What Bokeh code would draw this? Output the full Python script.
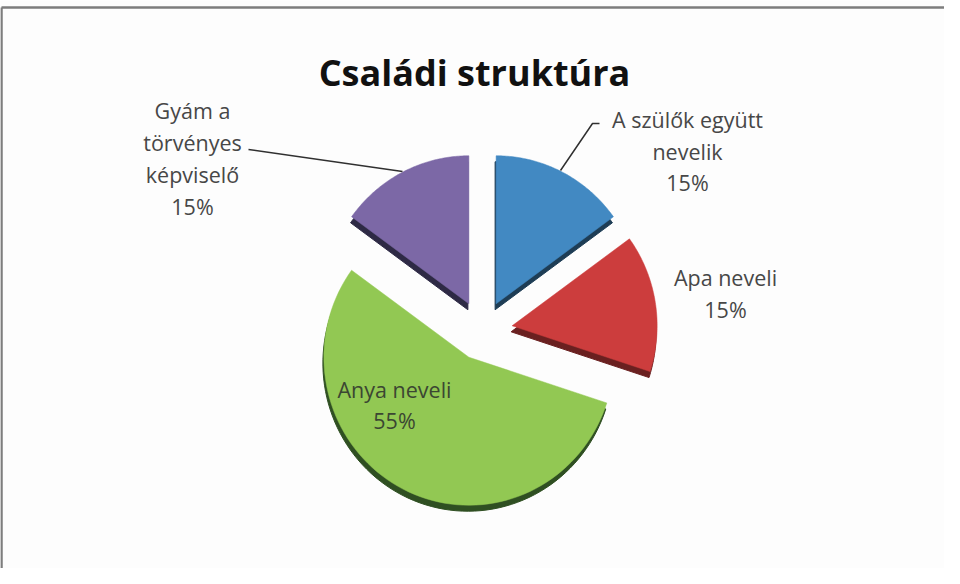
import math
from bokeh.plotting import figure
from bokeh.models import Range1d
from bokeh.core.properties import value
from bokeh.embed import file_html
from bokeh.resources import INLINE

# ---- data ----
categories = ["A szülők együtt nevelik", "Apa neveli", "Anya neveli", "Gyám a törvényes képviselő"]
shares = [15, 15, 55, 15]
pct_labels = ["15%", "15%", "55%", "15%"]
label_lines = [["A szülők együtt", "nevelik", "15%"],
               ["Apa neveli", "15%"],
               ["Anya neveli", "55%"],
               ["Gyám a", "törvényes", "képviselő", "15%"]]
title_text = "Családi struktúra"

top_colors = ["#4289c2", "#cc3d3d", "#92c853", "#7c68a6"]
side_colors = ["#1e3d55", "#6a2020", "#2f4f22", "#2e2a45"]
label_colors = ["#474747", "#474747", "#3b4632", "#474747"]

# ---- layout ----
W, H = 944, 568
cx, cy = 490.0, 338.0      # pie centre (screen px)
rx, ry = 145.0, 148.0      # radii
explode = 30.0
depth = 6.0

p = figure(width=W, height=H, x_range=Range1d(8, 8 + W), y_range=Range1d(8 + H, 8),
           output_backend="svg", toolbar_location=None, min_border=0,
           x_axis_type=None, y_axis_type=None)
p.grid.visible = False
p.outline_line_color = None
p.background_fill_color = "#fdfdfd"
p.border_fill_color = "#fdfdfd"

# frame lines of the chart area
p.segment(x0=[9, 9], y0=[15, 15], x1=[960, 9], y1=[15, 584], line_color="#7d7d7d", line_width=2.5)

total = float(sum(shares))
tops_x, tops_y, sides_x, sides_y = [], [], [], []
cum = 0.0
for v in shares:
    a0 = 90.0 - 360.0 * cum / total
    cum += v
    a1 = 90.0 - 360.0 * cum / total
    mid = math.radians((a0 + a1) / 2)
    ax = cx + explode * math.cos(mid)
    ay = cy - explode * math.sin(mid)
    n = 80
    xs, ys = [ax], [ay]
    for i in range(n + 1):
        t = math.radians(a0 + (a1 - a0) * i / n)
        xs.append(ax + rx * math.cos(t))
        ys.append(ay - ry * math.sin(t))
    tops_x.append(xs)
    tops_y.append(ys)
    sides_x.append([x - 1.0 for x in xs])
    sides_y.append([y + depth for y in ys])

p.patches(sides_x, sides_y, fill_color=side_colors, line_color=side_colors, line_width=1)
p.patches(tops_x, tops_y, fill_color=top_colors, line_color=top_colors, line_width=0.5)

# leader lines
p.line([568, 600, 607], [178, 131, 131], line_color="#303030", line_width=1.5)
p.line([256, 410], [157, 179], line_color="#303030", line_width=1.5)

# data labels (centre x, first line y)
label_x = [695, 733, 402, 200]
label_y0 = [127, 285, 397, 118]
line_gap = [31.5, 32, 31, 32]
tx, ty, tt, tc = [], [], [], []
for k, lines in enumerate(label_lines):
    for j, s in enumerate(lines):
        tx.append(label_x[k])
        ty.append(label_y0[k] + j * line_gap[k])
        tt.append(s)
        tc.append(label_colors[k])
p.text(x=tx, y=ty, text=tt, text_align="center", text_baseline="middle",
       text_font=value("Open Sans"), text_font_size="21.5px", text_color=tc)

# title
p.text(x=[482], y=[80], text=[title_text], text_align="center", text_baseline="alphabetic",
       text_font=value("Open Sans"), text_font_style="bold", text_font_size="36px",
       text_color="#111111")

open("out.html", "w").write(file_html(p, INLINE))
